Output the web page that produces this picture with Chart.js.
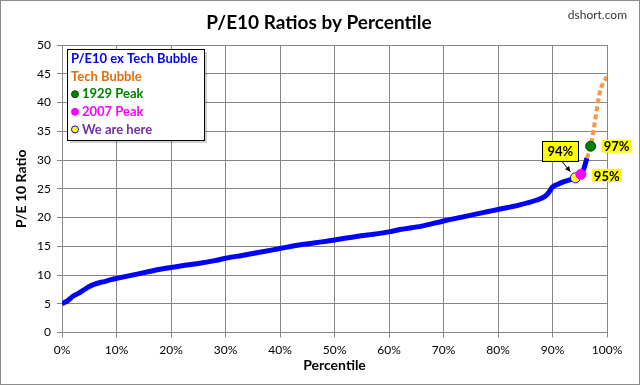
<!DOCTYPE html>
<html>
<head>
<meta charset="utf-8">
<script src="https://cdn.jsdelivr.net/npm/chart.js@4.4.0/dist/chart.umd.min.js"></script>
<style>
html, body { margin: 0; padding: 0; background: #fff; }
#wrap { width: 640px; height: 385px; position: relative; }
</style>
</head>
<body>
<div id="wrap"><canvas id="c" width="640" height="385"></canvas></div>
<script>
// P/E10 ex Tech Bubble (percentile -> ratio)
var pct = [0, 1, 2, 3, 4, 5, 6, 7, 8, 9, 10, 12, 14, 16, 18, 20, 22, 25, 28, 30, 33, 36, 40, 44, 48, 50, 54, 58, 60, 62, 66, 70, 74, 78, 80, 84, 87, 88.5, 89, 89.5, 90, 91, 92, 93, 94.2, 95.2, 95.8, 96.3];
var val = [5.0, 5.5, 6.3, 6.8, 7.4, 8.0, 8.4, 8.7, 8.9, 9.2, 9.4, 9.8, 10.2, 10.6, 11.0, 11.3, 11.6, 12.0, 12.5, 12.9, 13.4, 13.9, 14.6, 15.3, 15.8, 16.1, 16.7, 17.2, 17.5, 17.9, 18.5, 19.4, 20.2, 21.0, 21.4, 22.2, 23.0, 23.6, 24.0, 24.6, 25.3, 25.8, 26.2, 26.5, 26.9, 27.5, 28.6, 30.3];

// Tech Bubble
var techPct = [96.3, 97, 97.5, 98, 98.4, 98.9, 99.5, 100];
var techVal = [30.3, 32.4, 35.0, 38.0, 40.4, 42.5, 43.7, 44.5];

// markers
var peak1929 = { x: 97, y: 32.4, label: '97%' };
var peak2007 = { x: 95.2, y: 27.5, label: '95%' };
var weAreHere = { x: 94.2, y: 26.9, label: '94%' };

var xTicks = [0, 10, 20, 30, 40, 50, 60, 70, 80, 90, 100];
var yTicks = [0, 5, 10, 15, 20, 25, 30, 35, 40, 45, 50];

var legendItems = [
	{ text: 'P/E10 ex Tech Bubble', color: '#0000FF', dot: null },
	{ text: 'Tech Bubble', color: '#E46C0A', dot: null },
	{ text: '1929 Peak', color: '#008000', dot: '#008000', edge: '#005000' },
	{ text: '2007 Peak', color: '#FF00FF', dot: '#FF00FF', edge: '#FF00FF' },
	{ text: 'We are here', color: '#7030A0', dot: '#FFFF00', edge: '#0000FF' }
];

var FONT = 'Lato, "Open Sans", sans-serif';

function pts(xs, ys) {
	return xs.map(function (x, i) { return { x: x, y: ys[i] }; });
}

function yellowLabel(ctx, text, x, y, boxed) {
	ctx.font = 'bold 13px ' + FONT;
	var w = ctx.measureText(text).width;
	var padX = boxed ? 5 : 2, h = boxed ? 20 : 13;
	ctx.fillStyle = '#FFFF00';
	ctx.fillRect(x, y - h / 2, w + padX * 2, h);
	if (boxed) {
		ctx.strokeStyle = '#000';
		ctx.lineWidth = 1;
		ctx.strokeRect(Math.round(x) + 0.5, Math.round(y - h / 2) + 0.5, Math.round(w + padX * 2), h);
	}
	ctx.fillStyle = '#000';
	ctx.textAlign = 'left';
	ctx.textBaseline = 'middle';
	ctx.fillText(text, x + padX, y + 1);
	return w + padX * 2;
}

var decor = {
	id: 'decor',
	afterDraw: function (chart) {
		var ctx = chart.ctx;
		ctx.save();

		// outer frame
		ctx.strokeStyle = '#8c8c8c';
		ctx.lineWidth = 1;
		ctx.strokeRect(0.5, 0.5, 639, 384);

		// title
		ctx.fillStyle = '#000';
		ctx.textAlign = 'center';
		ctx.textBaseline = 'middle';
		ctx.font = 'bold 19px ' + FONT;
		ctx.fillText('P/E10 Ratios by Percentile', 319, 23);

		ctx.font = '12px ' + FONT;
		ctx.fillStyle = '#333';
		ctx.textAlign = 'right';
		ctx.fillText('dshort.com', 627, 15);

		// legend box
		var lx = 67, ly = 49, lw = 137, lh = 91;
		ctx.fillStyle = 'rgba(0,0,0,0.18)';
		ctx.fillRect(lx + 3, ly + 3, lw, lh);
		ctx.fillStyle = '#fff';
		ctx.fillRect(lx, ly, lw, lh);
		ctx.strokeStyle = '#000';
		ctx.strokeRect(lx + 0.5, ly + 0.5, lw, lh);
		ctx.font = 'bold 13px ' + FONT;
		ctx.textAlign = 'left';
		legendItems.forEach(function (it, i) {
			var ty = ly + 10 + i * 17.6;
			var tx = lx + 4;
			if (it.dot) {
				ctx.beginPath();
				ctx.arc(lx + 8, ty, 3.5, 0, Math.PI * 2);
				ctx.fillStyle = it.dot;
				ctx.fill();
				ctx.lineWidth = 1;
				ctx.strokeStyle = it.edge;
				ctx.stroke();
				tx = lx + 15;
			}
			ctx.fillStyle = it.color;
			ctx.fillText(it.text, tx, ty);
		});

		// point labels
		var m1929 = chart.getDatasetMeta(2).data[0];
		var m2007 = chart.getDatasetMeta(3).data[0];
		var mHere = chart.getDatasetMeta(4).data[0];
		yellowLabel(ctx, peak1929.label, m1929.x + 11, m1929.y, false);
		yellowLabel(ctx, peak2007.label, m2007.x + 11, m2007.y + 1, false);

		var bx = mHere.x - 33, by = mHere.y - 27;
		yellowLabel(ctx, weAreHere.label, bx, by, true);

		// arrow to "we are here"
		var ax0 = mHere.x - 13, ay0 = mHere.y - 16;
		var ax1 = mHere.x - 5, ay1 = mHere.y - 6;
		ctx.strokeStyle = '#000';
		ctx.lineWidth = 1;
		ctx.beginPath();
		ctx.moveTo(ax0, ay0);
		ctx.lineTo(ax1, ay1);
		ctx.stroke();
		var ang = Math.atan2(ay1 - ay0, ax1 - ax0);
		ctx.beginPath();
		ctx.moveTo(ax1, ay1);
		ctx.lineTo(ax1 - 6 * Math.cos(ang - 0.45), ay1 - 6 * Math.sin(ang - 0.45));
		ctx.lineTo(ax1 - 6 * Math.cos(ang + 0.45), ay1 - 6 * Math.sin(ang + 0.45));
		ctx.closePath();
		ctx.fillStyle = '#000';
		ctx.fill();

		ctx.restore();
	}
};

new Chart(document.getElementById('c'), {
	type: 'line',
	data: {
		datasets: [
			{
				label: 'P/E10 ex Tech Bubble',
				data: pts(pct, val),
				borderColor: '#0000FF',
				borderWidth: 5,
				pointRadius: 0,
				cubicInterpolationMode: 'monotone',
				order: 3
			},
			{
				label: 'Tech Bubble',
				data: pts(techPct, techVal),
				borderColor: '#F79646',
				borderWidth: 4,
				borderDash: [5, 3],
				pointRadius: 0,
				cubicInterpolationMode: 'monotone',
				order: 4
			},
			{
				label: '1929 Peak',
				data: [peak1929],
				pointRadius: 5,
				pointBackgroundColor: '#008000',
				pointBorderColor: '#004000',
				pointBorderWidth: 1,
				showLine: false,
				order: 0
			},
			{
				label: '2007 Peak',
				data: [peak2007],
				pointRadius: 5,
				pointBackgroundColor: '#FF00FF',
				pointBorderColor: '#FF00FF',
				pointBorderWidth: 1,
				showLine: false,
				order: 1
			},
			{
				label: 'We are here',
				data: [weAreHere],
				pointRadius: 5,
				pointBackgroundColor: '#FFFF00',
				pointBorderColor: '#0000FF',
				pointBorderWidth: 1,
				showLine: false,
				order: 2
			}
		]
	},
	options: {
		responsive: false,
		animation: false,
		devicePixelRatio: 1,
		layout: { padding: { left: 0, top: 45, right: 33, bottom: 0 } },
		plugins: {
			legend: { display: false },
			tooltip: { enabled: false },
			title: { display: false }
		},
		scales: {
			x: {
				type: 'linear',
				min: 0,
				max: 100,
				afterBuildTicks: function (s) { s.ticks = xTicks.map(function (v) { return { value: v }; }); },
				afterFit: function (s) { s.height = 52.5; },
				grid: { color: '#868686', lineWidth: 1, tickLength: 5 },
				border: { color: '#868686', width: 1 },
				ticks: {
					color: '#000',
					padding: 5,
					maxRotation: 0,
					font: { family: FONT, size: 12 },
					callback: function (v) { return v + '%'; }
				},
				title: {
					display: true,
					text: 'Percentile',
					color: '#000',
					font: { family: FONT, size: 14, weight: 'bold' },
					padding: { top: 0, bottom: 11 }
				}
			},
			y: {
				min: 0,
				max: 50,
				afterBuildTicks: function (s) { s.ticks = yTicks.map(function (v) { return { value: v }; }); },
				afterFit: function (s) { s.width = 62; },
				grid: { color: '#868686', lineWidth: 1, tickLength: 5 },
				border: { color: '#868686', width: 1 },
				ticks: {
					color: '#000',
					padding: 6,
					font: { family: FONT, size: 12 }
				},
				title: {
					display: true,
					text: 'P/E 10 Ratio',
					color: '#000',
					font: { family: FONT, size: 14, weight: 'bold' },
					padding: { top: 13, bottom: 0 }
				}
			}
		}
	},
	plugins: [decor]
});
</script>
</body>
</html>
